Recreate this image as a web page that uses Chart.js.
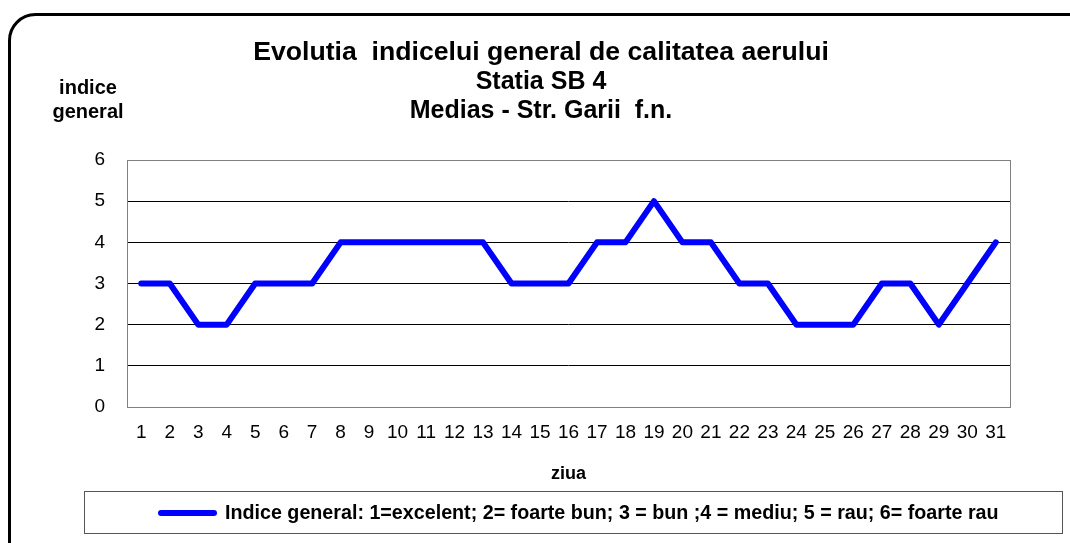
<!DOCTYPE html>
<html>
<head>
<meta charset="utf-8">
<script src="https://cdn.jsdelivr.net/npm/chart.js@4/dist/chart.umd.min.js"></script>
<style>
  html, body { margin: 0; padding: 0; background: #fff; }
  #wrap { position: relative; width: 1070px; height: 543px; }
</style>
</head>
<body>
<div id="wrap"><canvas id="chart" width="1070" height="543"></canvas></div>
<script>
const days = ['1','2','3','4','5','6','7','8','9','10','11','12','13','14','15','16','17','18','19','20','21','22','23','24','25','26','27','28','29','30','31'];
const indiceGeneral = [3,3,2,2,3,3,3,4,4,4,4,4,4,3,3,3,4,4,5,4,4,3,3,2,2,2,3,3,2,3,4];
const yTicks = [0,1,2,3,4,5,6];

const titleLines = ['Evolutia  indicelui general de calitatea aerului', 'Statia SB 4', 'Medias - Str. Garii  f.n.'];
const yTitle = ['indice', 'general'];
const xTitle = 'ziua';
const seriesLabel = 'Indice general: 1=excelent; 2= foarte bun; 3 = bun ;4 = mediu; 5 = rau; 6= foarte rau';

const FONT = '"Liberation Sans", Arial, sans-serif';

// frame, titles, plot border and boxed legend
const decorations = {
  id: 'decorations',
  beforeDraw(chart) {
    const ctx = chart.ctx;
    ctx.save();
    ctx.fillStyle = '#fff';
    ctx.fillRect(0, 0, chart.width, chart.height);
    ctx.restore();
  },
  afterDraw(chart) {
    const ctx = chart.ctx;
    const a = chart.chartArea;
    ctx.save();

    // outer rounded frame (runs off the right/bottom edge)
    ctx.strokeStyle = '#000';
    ctx.lineWidth = 3;
    ctx.beginPath();
    ctx.roundRect(9.5, 14.5, 1090, 560, 26);
    ctx.stroke();

    // plot area border
    ctx.strokeStyle = '#808080';
    ctx.lineWidth = 1;
    ctx.strokeRect(a.left + 0.5, a.top + 0.5, a.right - a.left, a.bottom - a.top);

    ctx.fillStyle = '#000';
    ctx.textAlign = 'center';
    ctx.textBaseline = 'middle';

    ctx.font = 'bold 25px ' + FONT;
    titleLines.forEach((t, i) => {
      ctx.save();
      ctx.translate(541, 53 + i * 29);
      if (i === 0) ctx.scale(1.065, 1); // first line is a bit wider in the original
      ctx.fillText(t, 0, 0);
      ctx.restore();
    });

    ctx.font = 'bold 20px ' + FONT;
    yTitle.forEach((t, i) => ctx.fillText(t, 88, 88 + i * 24));

    ctx.font = 'bold 18px ' + FONT;
    ctx.fillText(xTitle, (a.left + a.right) / 2, 474);

    // legend box
    ctx.strokeStyle = '#555';
    ctx.lineWidth = 1;
    ctx.strokeRect(84.5, 491.5, 978, 42);
    const ds = chart.data.datasets[0];
    ctx.strokeStyle = ds.borderColor;
    ctx.lineWidth = 6;
    ctx.lineCap = 'round';
    ctx.beginPath();
    ctx.moveTo(161, 513);
    ctx.lineTo(214, 513);
    ctx.stroke();
    ctx.textAlign = 'left';
    ctx.font = 'bold 19.7px ' + FONT;
    ctx.fillText(ds.label, 225, 514);

    ctx.restore();
  }
};

new Chart(document.getElementById('chart'), {
  type: 'line',
  data: {
    labels: days,
    datasets: [{
      label: seriesLabel,
      data: indiceGeneral,
      borderColor: '#0000FF',
      borderWidth: 6,
      pointRadius: 0,
      tension: 0,
      borderJoinStyle: 'round',
      borderCapStyle: 'round'
    }]
  },
  options: {
    responsive: false,
    animation: false,
    layout: { padding: { left: 87, right: 60, top: 160, bottom: 91 } },
    plugins: {
      legend: { display: false },
      title: { display: false },
      tooltip: { enabled: false }
    },
    scales: {
      x: {
        offset: true,
        grid: { display: false, drawTicks: false },
        border: { display: false },
        ticks: { color: '#000', font: { family: FONT, size: 19 }, padding: 14, maxRotation: 0, autoSkip: false },
        afterFit(s) { s.height = 45; }
      },
      y: {
        min: 0,
        max: 6,
        afterBuildTicks(s) { s.ticks = yTicks.map(v => ({ value: v })); },
        grid: {
          drawTicks: false,
          color: c => (c.tick.value === 0 || c.tick.value === 6) ? 'rgba(0,0,0,0)' : '#000',
          lineWidth: 1
        },
        border: { display: false },
        ticks: { color: '#000', font: { family: FONT, size: 19 }, padding: 22 },
        afterFit(s) { s.width = 40; }
      }
    }
  },
  plugins: [decorations]
});
</script>
</body>
</html>
